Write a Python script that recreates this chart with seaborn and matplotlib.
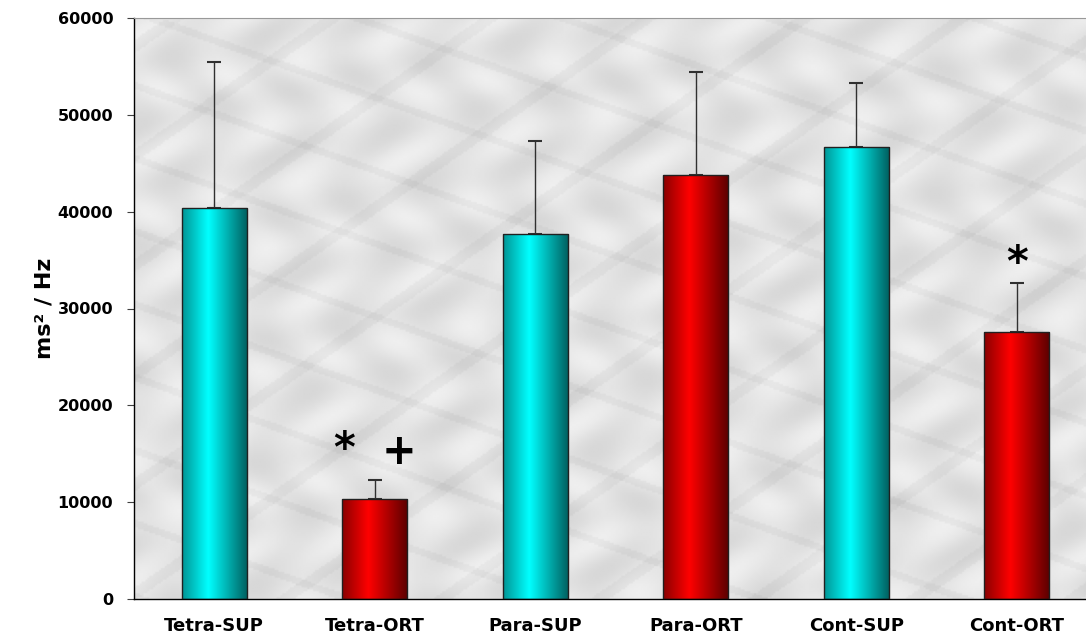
import numpy as np
import pandas as pd
import matplotlib
matplotlib.use("Agg")
import matplotlib.pyplot as plt
import seaborn as sns
from matplotlib.colors import LinearSegmentedColormap

categories = ["Tetra-SUP", "Tetra-ORT", "Para-SUP", "Para-ORT", "Cont-SUP", "Cont-ORT"]
means = [40400, 10300, 37700, 43800, 46700, 27600]
errors = [15100, 2000, 9600, 10600, 6600, 5000]
groups = ["SUP", "ORT", "SUP", "ORT", "SUP", "ORT"]
yticks = [0, 10000, 20000, 30000, 40000, 50000, 60000]

sns.set_theme(style="white")
plt.rcParams['font.family'] = ['DejaVu Sans']
plt.rcParams['text.color'] = 'black'
plt.rcParams['axes.labelcolor'] = 'black'
plt.rcParams['xtick.color'] = 'black'
plt.rcParams['ytick.color'] = 'black'

df = pd.DataFrame({"cat": categories, "val": means, "grp": groups})
palette = {"SUP": "#00e0e0", "ORT": "#e00000"}

fig = plt.figure(figsize=(10.86, 6.34), dpi=100)
ax = fig.add_axes([134/1086, 1 - 599/634, 963/1086, 581/634])

# textured background (deterministic)
yy, xx = np.mgrid[0:300, 0:500]
tex = (0.89 + 0.025*np.sin(xx/7.0 + 2*np.sin(yy/11.0)) + 0.02*np.sin(yy/5.0 + xx/23.0)
       - 0.03*(np.sin(xx/13.0 + yy/9.0) > 0.93) - 0.03*(np.sin(xx/17.0 - yy/6.0 + 1) > 0.95))
ax.imshow(tex, cmap="gray", vmin=0, vmax=1, extent=(-0.5, 5.5, 0, 60000), aspect="auto", zorder=0)

sns.barplot(data=df, x="cat", y="val", hue="grp", palette=palette, dodge=False,
            width=0.405, edgecolor="#202020", linewidth=1.0, legend=False, ax=ax, zorder=2)

cyan_cmap = LinearSegmentedColormap.from_list("c", [(0, "#009595"), (0.4, "#00ffff"), (1, "#005e5e")])
red_cmap = LinearSegmentedColormap.from_list("r", [(0, "#8a0000"), (0.4, "#ff0000"), (1, "#5a0000")])
grad = np.linspace(0, 1, 256).reshape(1, -1)
for patch, g in zip(sorted(ax.patches, key=lambda p: p.get_x()), groups):
    x0, w, h = patch.get_x(), patch.get_width(), patch.get_height()
    im = ax.imshow(grad, cmap=cyan_cmap if g == "SUP" else red_cmap, aspect="auto",
                   extent=(x0, x0 + w, 0, h), zorder=2.5)
    im.set_clip_path(patch)
    patch.set_facecolor("none")
    patch.set_zorder(3)

ax.errorbar(np.arange(len(categories)), means, yerr=[np.zeros(len(errors)), errors],
            fmt="none", ecolor="#303030", elinewidth=1.0, capsize=5, capthick=1.5, zorder=1.5)

ax.set_xlim(-0.5, 5.5)
ax.set_ylim(0, 60000)
ax.set_yticks(yticks)
ax.set_yticklabels([str(v) for v in yticks], fontsize=11.5, fontweight="bold")
ax.set_xticks(np.arange(len(categories)))
ax.set_xticklabels(categories, fontsize=13, fontweight="bold")
ax.set_xticks(np.arange(-0.5, 6, 1), minor=True)
ax.tick_params(axis="x", which="major", length=0, pad=13)
ax.tick_params(axis="x", which="minor", length=5, width=0.8, color="#404040", direction="out")
ax.tick_params(axis="y", length=5, width=0.8, color="#404040", direction="out", left=True, pad=10)
ax.set_xlabel("")
ax.set_ylabel("ms² / Hz", fontsize=16, fontweight="bold")
ax.yaxis.set_label_coords(-0.083, 0.5)

for s in ["left", "bottom"]:
    ax.spines[s].set_color("black")
    ax.spines[s].set_linewidth(1.0)
ax.spines["top"].set_color("#999999")
ax.spines["top"].set_linewidth(0.8)
ax.spines["right"].set_visible(False)

ax.text(0.81, 15400, "*", fontsize=30, fontweight="bold", ha="center", va="center", zorder=4)
ax.text(1.15, 15200, "+", fontsize=30, fontweight="bold", ha="center", va="center", zorder=4)
ax.text(5.0, 34600, "*", fontsize=30, fontweight="bold", ha="center", va="center", zorder=4)

fig.savefig("out.png", dpi=100)
